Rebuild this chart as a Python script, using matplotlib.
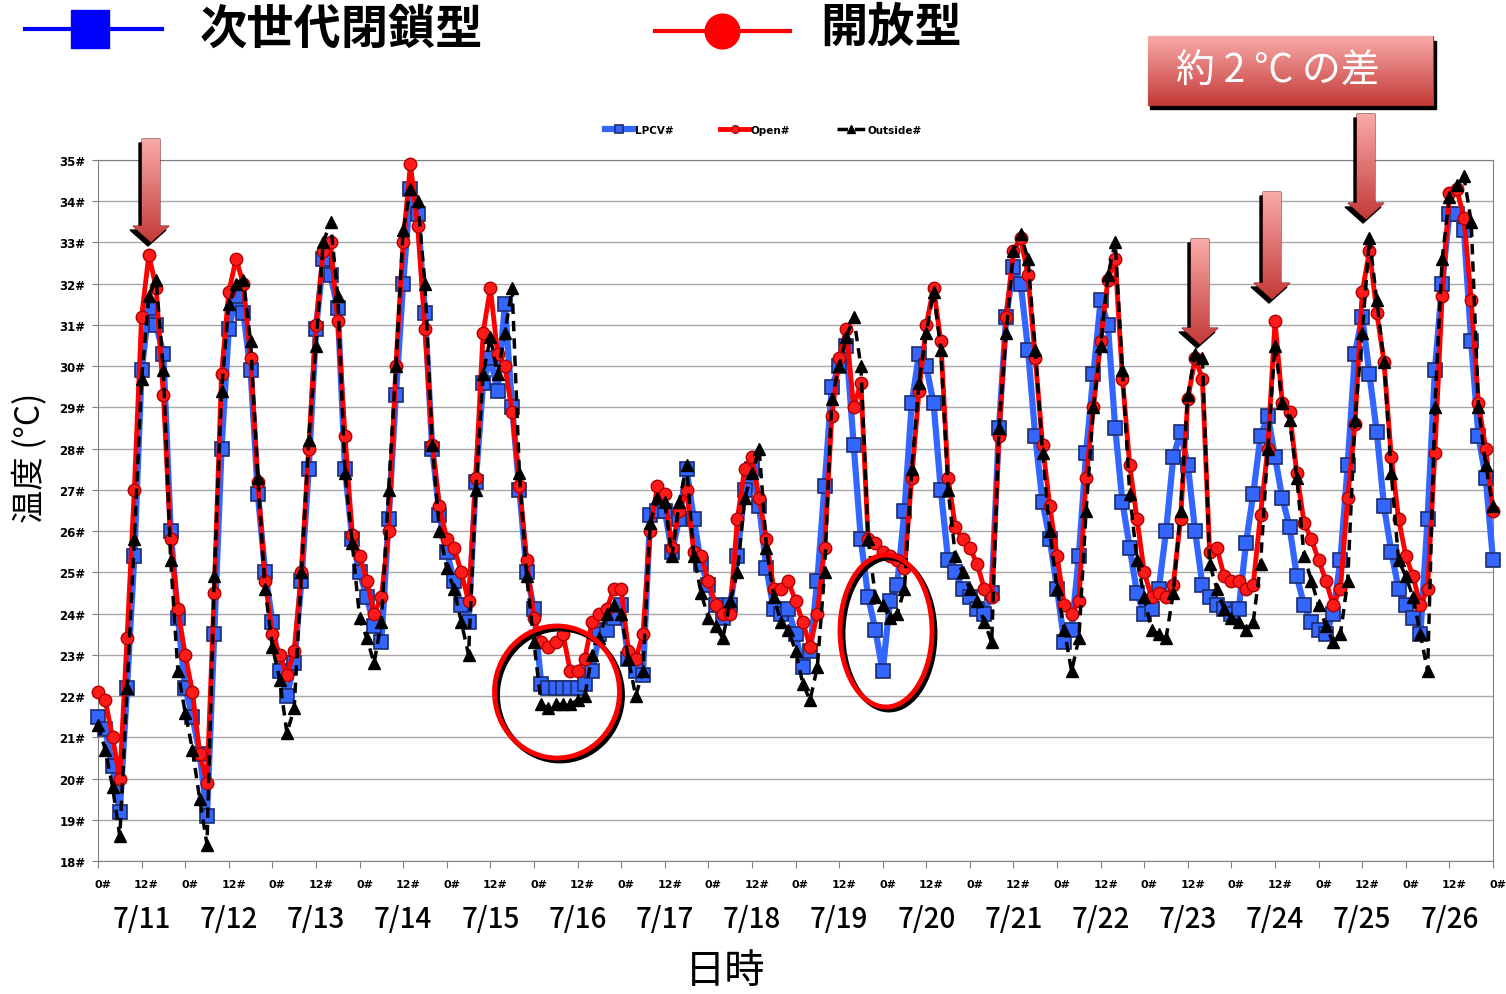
import numpy as np
import matplotlib
matplotlib.use("Agg")
import matplotlib.pyplot as plt
import matplotlib.transforms as mtransforms
from matplotlib.patches import Polygon, Ellipse, Rectangle
from matplotlib.colors import LinearSegmentedColormap

plt.rcParams['font.family'] = ['Noto Sans CJK JP', 'DejaVu Sans']

# hours since 7/11 0:00, one reading every 2 h
hours = list(range(0, 385, 2))

# Open (開放型) greenhouse temperature
open_temp = [
    22.1, 21.9, 21.0, 20.0, 23.4, 27.0, 31.2, 32.7, 31.9, 29.3, 25.8, 24.1,  # 7/11
    23.0, 22.1, 20.6, 19.9, 24.5, 29.8, 31.8, 32.6, 32.0, 30.2, 27.2, 24.8,  # 7/12
    23.5, 23.0, 22.5, 23.1, 25.0, 28.0, 31.0, 32.8, 33.0, 31.1, 28.3, 25.9,  # 7/13
    25.4, 24.8, 24.0, 24.4, 26.0, 30.0, 33.0, 34.9, 33.4, 30.9, 28.1, 26.6,  # 7/14
    25.8, 25.6, 25.0, 24.3, 27.3, 30.8, 31.9, 30.3, 30.0, 28.9, 27.1, 25.3,  # 7/15
    23.9, 23.3, 23.2, 23.3, 23.5, 22.6, 22.6, 22.9, 23.8, 24.0, 24.1, 24.6,  # 7/16
    24.6, 23.1, 22.9, 23.5, 26.0, 27.1, 26.9, 25.6, 26.5, 27.0, 25.5, 25.4,  # 7/17
    24.8, 24.2, 24.0, 24.0, 26.3, 27.5, 27.8, 26.8, 25.8, 24.6, 24.6, 24.8,  # 7/18
    24.3, 23.8, 23.2, 24.0, 25.6, 28.8, 30.2, 30.9, 29.0, 29.6, 25.8, 25.7,  # 7/19
    25.5, 25.4, 25.3, 25.1, 27.3, 29.4, 31.0, 31.9, 30.6, 27.3, 26.1, 25.8,  # 7/20
    25.6, 25.2, 24.6, 24.4, 28.3, 31.2, 32.8, 33.1, 32.2, 30.2, 28.1, 26.6,  # 7/21
    25.4, 24.2, 24.0, 24.3, 27.3, 29.0, 30.6, 32.1, 32.6, 29.7, 27.6, 26.3,  # 7/22
    25.0, 24.4, 24.5, 24.4, 24.7, 26.3, 29.2, 30.2, 29.7, 25.5, 25.6, 24.9,  # 7/23
    24.8, 24.8, 24.6, 24.7, 26.4, 28.0, 31.1, 29.1, 28.9, 27.4, 26.2, 25.8,  # 7/24
    25.3, 24.8, 24.2, 24.6, 26.8, 28.6, 31.8, 32.8, 31.3, 30.1, 27.8, 26.3,  # 7/25
    25.4, 24.9, 24.2, 24.6, 27.9, 31.7, 34.2, 34.3, 33.6, 31.6, 29.1, 28.0,  # 7/26
    26.5,
]

# LPCV (次世代閉鎖型) greenhouse temperature
lpcv_temp = [
    21.5, 21.2, 20.3, 19.2, 22.2, 25.4, 29.9, 31.4, 31.0, 30.3, 26.0, 23.9,
    22.2, 21.5, 20.6, 19.1, 23.5, 28.0, 30.9, 31.7, 31.3, 29.9, 26.9, 25.0,
    23.8, 22.6, 22.0, 22.8, 24.8, 27.5, 30.9, 32.6, 32.2, 31.4, 27.5, 25.8,
    25.0, 24.4, 23.7, 23.3, 26.3, 29.3, 32.0, 34.3, 33.7, 31.3, 28.0, 26.4,
    25.5, 24.8, 24.2, 23.8, 27.2, 29.6, 30.2, 29.4, 31.5, 29.0, 27.0, 25.0,
    24.1, 22.3, 22.2, 22.2, 22.2, 22.2, 22.2, 22.3, 22.6, 23.5, 23.6, 23.9,
    24.2, 22.9, 22.6, 22.5, 26.4, 26.5, 26.5, 25.5, 26.3, 27.5, 26.3, 25.2,
    24.7, 24.2, 23.9, 24.2, 25.4, 27.0, 27.5, 26.6, 25.1, 24.1, 24.0, 24.1,
    23.5, 22.7, 23.1, 24.8, 27.1, 29.5, 30.0, 30.5, 28.1, 25.8, 24.4, 23.6,
    22.6, 24.3, 24.7, 26.5, 29.1, 30.3, 30.0, 29.1, 27.0, 25.3, 25.0, 24.6,
    24.4, 24.1, 24.0, 24.5, 28.5, 31.2, 32.4, 32.0, 30.4, 28.3, 26.7, 25.8,
    24.6, 23.3, 23.6, 25.4, 27.9, 29.8, 31.6, 31.0, 28.5, 26.7, 25.6, 24.5,
    24.0, 24.1, 24.6, 26.0, 27.8, 28.4, 27.6, 26.0, 24.7, 24.4, 24.2, 24.1,
    24.0, 24.1, 25.7, 26.9, 28.3, 28.8, 27.8, 26.8, 26.1, 24.9, 24.2, 23.8,
    23.6, 23.5, 24.0, 25.3, 27.6, 30.3, 31.2, 29.8, 28.4, 26.6, 25.5, 24.6,
    24.2, 23.9, 23.5, 26.3, 29.9, 32.0, 33.7, 33.7, 33.3, 30.6, 28.3, 27.3,
    25.3,
]

# outside air temperature
outside_temp = [
    21.3, 20.7, 19.8, 18.6, 22.2, 25.8, 29.7, 31.7, 32.1, 29.9, 25.3, 22.6,
    21.6, 20.7, 19.5, 18.4, 24.9, 29.4, 31.5, 32.0, 32.1, 30.6, 27.3, 24.6,
    23.2, 22.4, 21.1, 21.7, 25.0, 28.2, 30.5, 33.0, 33.5, 31.7, 27.4, 25.7,
    23.9, 23.4, 22.8, 23.8, 27.0, 30.0, 33.3, 34.3, 34.0, 32.0, 28.1, 26.0,
    25.1, 24.6, 23.8, 23.0, 27.0, 29.8, 30.7, 29.8, 30.8, 31.9, 27.4, 24.9,
    23.3, 21.8, 21.7, 21.8, 21.8, 21.8, 21.9, 22.0, 23.0, 23.4, 24.0, 24.2,
    24.0, 22.9, 22.0, 22.6, 26.2, 26.8, 26.7, 25.4, 26.7, 27.6, 25.4, 24.5,
    23.9, 23.7, 23.4, 24.3, 25.0, 26.8, 27.4, 28.0, 25.6, 24.4, 23.8, 23.6,
    23.1, 22.3, 21.9, 22.7, 25.0, 29.2, 30.0, 30.7, 31.2, 30.0, 25.8, 24.4,
    24.2, 23.9, 24.0, 24.6, 27.5, 29.6, 30.8, 31.8, 30.4, 27.0, 25.4, 25.0,
    24.6, 24.3, 23.8, 23.3, 28.5, 30.8, 32.8, 33.2, 32.6, 30.4, 27.9, 26.0,
    24.6, 23.6, 22.6, 23.4, 26.5, 29.0, 30.5, 32.2, 33.0, 29.9, 26.9, 25.3,
    24.4, 23.6, 23.5, 23.4, 24.5, 26.5, 29.3, 30.3, 30.2, 25.2, 24.6, 24.1,
    23.9, 23.8, 23.6, 23.8, 25.2, 28.0, 30.5, 29.1, 28.7, 27.3, 25.4, 24.8,
    24.2, 23.7, 23.3, 23.5, 24.8, 28.7, 30.8, 33.1, 31.6, 30.1, 27.4, 25.3,
    24.9, 24.4, 23.5, 22.6, 29.0, 32.6, 34.1, 34.4, 34.6, 33.5, 29.0, 27.6,
    26.6,
]

day_labels = ['7/11', '7/12', '7/13', '7/14', '7/15', '7/16', '7/17', '7/18',
              '7/19', '7/20', '7/21', '7/22', '7/23', '7/24', '7/25', '7/26']
hour_ticks = list(range(0, 385, 12))
hour_labels = ['0#' if h % 24 == 0 else '12#' for h in hour_ticks]
y_ticks = list(range(18, 36))
y_labels = [f'{v}#' for v in y_ticks]

W, H = 1506, 995
fig = plt.figure(figsize=(W / 100, H / 100), dpi=100)
ax = fig.add_axes([98 / W, 1 - 862 / H, (1493 - 98) / W, (862 - 161) / H])

ax.plot(hours, lpcv_temp, color='#3366ff', lw=4.5, marker='s', ms=9.5,
        mfc='#3366ff', mec='#1d2c6e', mew=1.2, label='LPCV#', zorder=3, clip_on=False)
ax.plot(hours, open_temp, color='#ff0000', lw=3.5, marker='o', ms=9,
        mfc='#ff1a1a', mec='#b00000', mew=1, label='Open#', zorder=4, clip_on=False)
ax.plot(hours, outside_temp, color='black', lw=2.5, ls=(0, (3, 2)), marker='^', ms=8.5,
        mfc='black', mec='black', label='Outside#', zorder=5, clip_on=False)

ax.set_xlim(0, 384)
ax.set_ylim(18, 35)
ax.set_yticks(y_ticks)
ax.set_yticklabels(y_labels, fontfamily='DejaVu Sans', fontweight='bold', fontsize=8.5)
ax.set_xticks(hour_ticks)
ax.set_xticklabels(hour_labels, fontfamily='DejaVu Sans', fontweight='bold', fontsize=8)
ax.tick_params(axis='y', length=4, color='#808080', pad=5)
ax.tick_params(axis='x', length=5, color='#808080', pad=8)
shift = mtransforms.ScaledTranslation(5 / 100, 0, fig.dpi_scale_trans)
for lbl in ax.get_xticklabels():
    lbl.set_transform(lbl.get_transform() + shift)
ax.yaxis.grid(True, color='#a8a8a8', lw=1)
ax.set_axisbelow(True)
for sp in ax.spines.values():
    sp.set_color('#808080')

leg = ax.legend(loc='center', bbox_to_anchor=(763 / W, 1 - 131 / H),
                bbox_transform=fig.transFigure, ncol=3, frameon=False,
                prop={'family': 'DejaVu Sans', 'weight': 'bold', 'size': 7.5},
                handlelength=2.8, columnspacing=4.5, handletextpad=0.1, markerscale=0.6)

# day labels under the hour ticks
tr = mtransforms.blended_transform_factory(ax.transData, fig.transFigure)
for i, d in enumerate(day_labels):
    ax.text(i * 24 + 12, 1 - 920 / H, d, transform=tr, ha='center', va='center',
            fontsize=20, fontweight='medium')

fig.text(725 / W, 1 - 972 / H, '日時', ha='center', va='center', fontsize=29)
fig.text(30 / W, 1 - 458 / H, '温度 (°C)', ha='center', va='center', rotation=90, fontsize=24)

# overlay in pixel coordinates for the annotations
ov = fig.add_axes([0, 0, 1, 1])
ov.axis('off')
red_grad = LinearSegmentedColormap.from_list('rg', ['#f8aaa8', '#c43b38'])
grad = np.linspace(0, 1, 100).reshape(-1, 1)


def gradient_patch(patch, x0, x1, y0, y1):
    ov.add_patch(patch)
    im = ov.imshow(grad, extent=(x0, x1, y1, y0), cmap=red_grad, aspect='auto',
                   origin='upper', zorder=patch.get_zorder() + 0.1)
    im.set_clip_path(patch)


def arrow(x, top, tip):
    pts = [(x - 9, top), (x + 9, top), (x + 9, tip - 16), (x + 18, tip - 16),
           (x, tip), (x - 18, tip - 16), (x - 9, tip - 16)]
    shadow = [(px - 3, py + 4) for px, py in pts]
    ov.add_patch(Polygon(shadow, closed=True, color='black', zorder=10))
    gradient_patch(Polygon(pts, closed=True, ec='#7a1f1d', lw=0.8, fc='none', zorder=11),
                   x - 18, x + 18, top, tip)


arrow(151, 140, 243)
arrow(1200, 240, 345)
arrow(1272, 193, 300)
arrow(1366, 115, 220)

# circled regions
for (cx, cy, w, h) in [(557, 693, 125, 132), (886, 632, 92, 152)]:
    ov.add_patch(Ellipse((cx + 3, cy + 3), w, h, fill=False, ec='black', lw=3.5, zorder=12))
    ov.add_patch(Ellipse((cx, cy), w, h, fill=False, ec='#ff0000', lw=3.5, zorder=13))

# "約 2 °C の差" box
ov.add_patch(Rectangle((1150, 42), 286, 68, color='black', zorder=10))
gradient_patch(Rectangle((1148, 37), 285, 69, fc='none', ec='#b03030', lw=0.8, zorder=11),
               1148, 1433, 37, 106)
ov.text(1278, 72, '約 2 °C の差', color='white', fontsize=28, ha='center', va='center', zorder=14)

# header legend
ov.plot([25, 162], [30, 30], color='#0000ff', lw=3, zorder=10)
ov.plot([90], [30], marker='s', ms=27, color='#0000ff', zorder=11)
ov.text(200, 30, '次世代閉鎖型', fontsize=34, fontweight='bold', ha='left', va='center')
ov.plot([655, 790], [32, 32], color='#ff0000', lw=3, zorder=10)
ov.plot([722], [32], marker='o', ms=25, color='#ff0000', zorder=11)
ov.text(820, 28, '開放型', fontsize=34, fontweight='bold', ha='left', va='center')

ov.set_xlim(0, W)
ov.set_ylim(H, 0)

fig.savefig('out.png', dpi=100)
